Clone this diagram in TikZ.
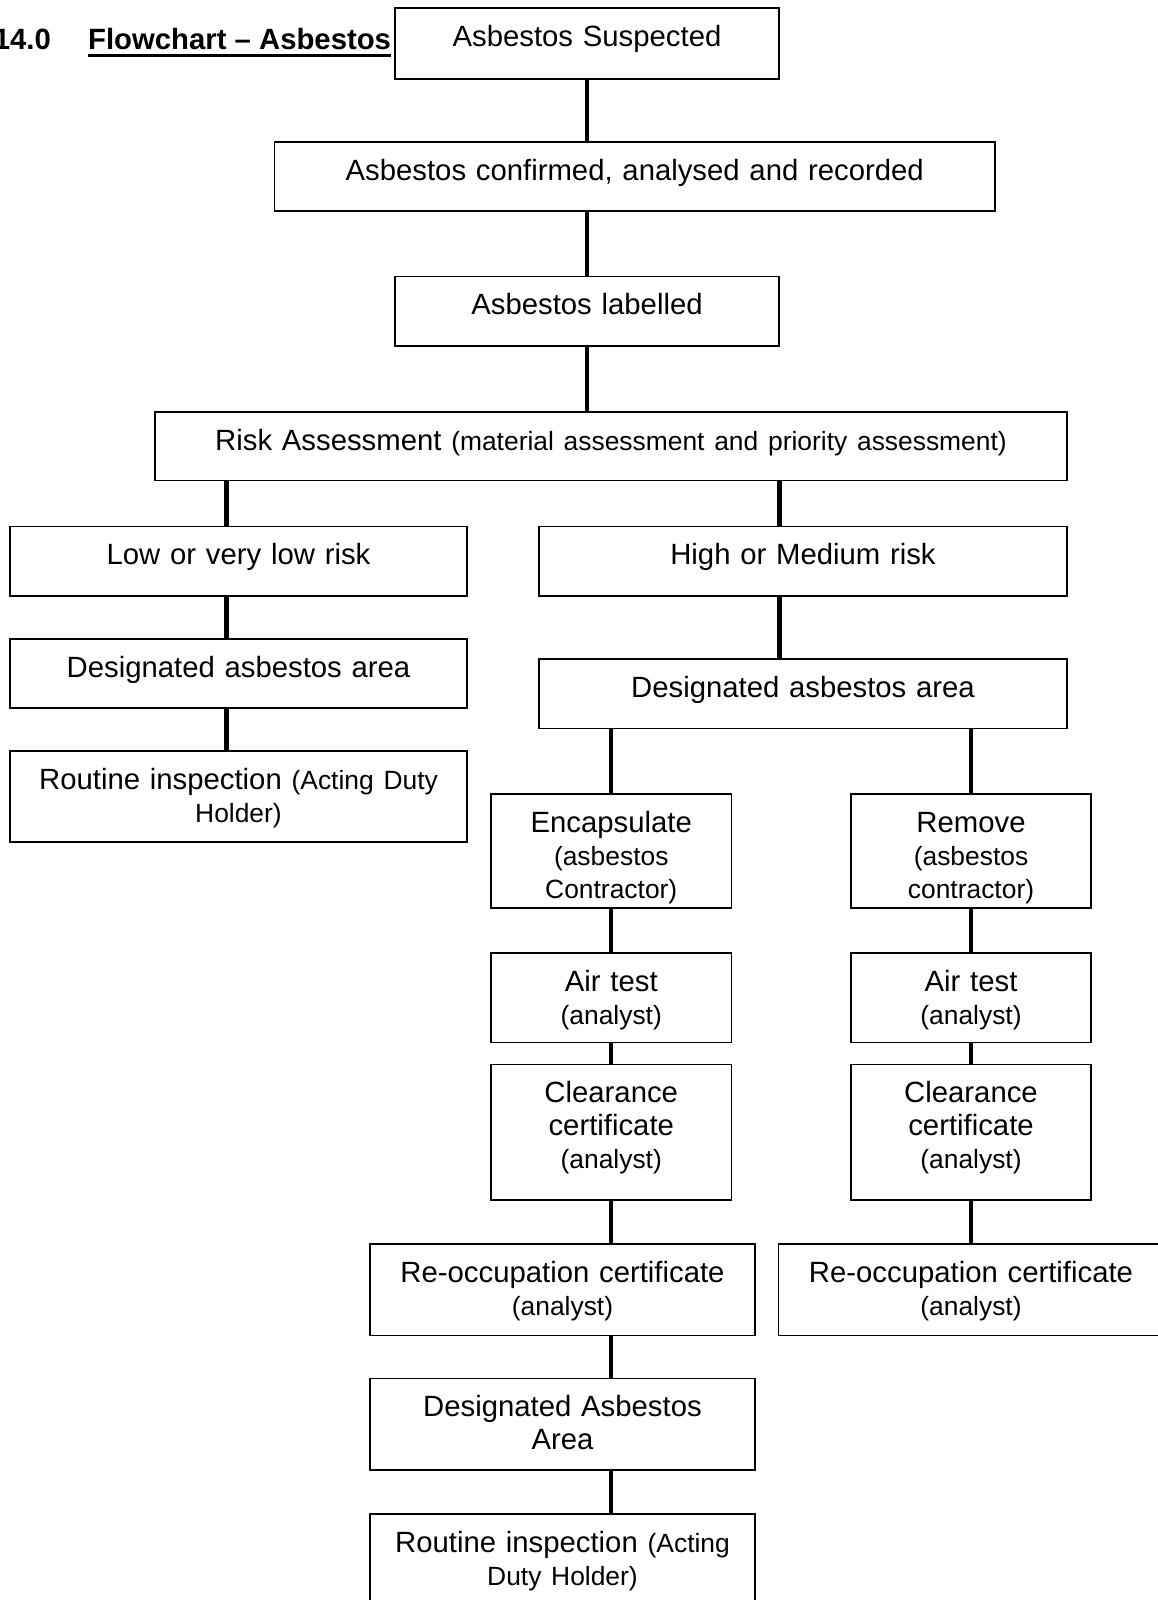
\documentclass[tikz,border=0pt]{standalone}
\usepackage{fontspec}
\setmainfont{Liberation Sans}
\newcommand\bigtxt{\fontsize{29.3pt}{33pt}\selectfont}
\newcommand\smalltxt[1]{{\fontsize{26.4pt}{31pt}\selectfont #1}}

\begin{document}
\begin{tikzpicture}[x=1pt,y=-1pt,
  chartbox/.style={draw,fill=white,line width=1.8pt,anchor=north,align=center,
    inner xsep=6pt,inner ysep=0pt,text height=38.5pt,font=\bigtxt},
  link/.style={line width=4.5pt}]
\useasboundingbox (0,0) rectangle (1157,1600);

% heading
\node[anchor=base east,inner sep=0pt,font=\bigtxt\bfseries] (num) at (51,50) {14.0};
\node[anchor=base west,inner sep=0pt,font=\bigtxt\bfseries] (ttl) at (88,50) {Flowchart -- Asbestos};
\draw[line width=3pt] ([yshift=-6pt]ttl.base west) -- ([yshift=-6pt]ttl.base east);

% main line
\node[chartbox,text width=372pt,text depth=32.5pt] (susp) at (587,7) {Asbestos Suspected};
\node[chartbox,text width=708.5pt,text depth=30.5pt] (conf) at (634.75,141) {Asbestos confirmed, analysed and recorded};
\node[chartbox,text width=372pt,text depth=31pt] (label) at (587,275.5) {Asbestos labelled};
\node[chartbox,text width=900pt,text depth=30pt] (risk) at (611,411) {Risk Assessment \smalltxt{(material assessment and priority assessment)}};

% low risk branch
\node[chartbox,text width=445pt,text depth=31pt] (low) at (238.5,525.5) {Low or very low risk};
\node[chartbox,text width=445pt,text depth=30.5pt] (areaL) at (238.5,638) {Designated asbestos area};
\node[chartbox,text width=445pt,text depth=52.5pt] (inspL) at (238.5,750) {Routine inspection \smalltxt{(Acting Duty}\\\smalltxt{Holder)}};

% high risk branch
\node[chartbox,text width=516pt,text depth=31pt] (high) at (803,525.5) {High or Medium risk};
\node[chartbox,text width=516pt,text depth=31pt] (areaR) at (803,658) {Designated asbestos area};

\node[chartbox,text width=228.5pt,text depth=75.5pt] (encap) at (611.25,793) {Encapsulate\\\smalltxt{(asbestos}\\\smalltxt{Contractor)}};
\node[chartbox,text width=228pt,text depth=75.5pt] (remove) at (971,793) {Remove\\\smalltxt{(asbestos}\\\smalltxt{contractor)}};
\node[chartbox,text width=228.5pt,text depth=51pt] (airL) at (611.25,952) {Air test\\\smalltxt{(analyst)}};
\node[chartbox,text width=228pt,text depth=51pt] (airR) at (971,952) {Air test\\\smalltxt{(analyst)}};
\node[chartbox,text width=228.5pt,text depth=97pt] (clearL) at (611.25,1063.5) {Clearance\\certificate\\\smalltxt{(analyst)}};
\node[chartbox,text width=228pt,text depth=97pt] (clearR) at (971,1063.5) {Clearance\\certificate\\\smalltxt{(analyst)}};
\node[chartbox,text width=373pt,text depth=53pt] (reoccL) at (562.5,1243) {Re-occupation certificate\\\smalltxt{(analyst)}};
\node[chartbox,text width=373pt,text depth=53pt] (reoccR) at (971,1243) {Re-occupation certificate\\\smalltxt{(analyst)}};
\node[chartbox,text width=373pt,text depth=53pt] (areaB) at (562.5,1377.5) {Designated Asbestos\\Area};
\node[chartbox,text width=373pt,text depth=52.5pt] (inspB) at (562.5,1513) {Routine inspection \smalltxt{(Acting}\\\smalltxt{Duty Holder)}};

% columns of the connectors
\coordinate (colA) at (587,0);
\coordinate (colL) at (226.5,0);
\coordinate (colR) at (779.5,0);
\coordinate (colE) at (611,0);
\coordinate (colF) at (971,0);

\draw[link] (susp.south -| colA) -- (conf.north -| colA);
\draw[link] (conf.south -| colA) -- (label.north -| colA);
\draw[link] (label.south -| colA) -- (risk.north -| colA);
\draw[link] (risk.south -| colL) -- (low.north -| colL);
\draw[link] (low.south -| colL) -- (areaL.north -| colL);
\draw[link] (areaL.south -| colL) -- (inspL.north -| colL);
\draw[link] (risk.south -| colR) -- (high.north -| colR);
\draw[link] (high.south -| colR) -- (areaR.north -| colR);
\draw[link] (areaR.south -| colE) -- (encap.north -| colE);
\draw[link] (areaR.south -| colF) -- (remove.north -| colF);
\draw[link] (encap.south -| colE) -- (airL.north -| colE);
\draw[link] (remove.south -| colF) -- (airR.north -| colF);
\draw[link] (airL.south -| colE) -- (clearL.north -| colE);
\draw[link] (airR.south -| colF) -- (clearR.north -| colF);
\draw[link] (clearL.south -| colE) -- (reoccL.north -| colE);
\draw[link] (clearR.south -| colF) -- (reoccR.north -| colF);
\draw[link] (reoccL.south -| colE) -- (areaB.north -| colE);
\draw[link] (areaB.south -| colE) -- (inspB.north -| colE);
\end{tikzpicture}
\end{document}
